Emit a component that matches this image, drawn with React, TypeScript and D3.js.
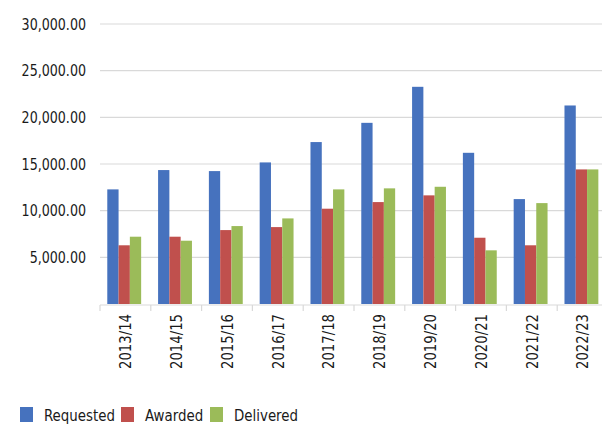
import { useEffect, useRef } from 'react';
import * as d3 from 'd3';

const years = ['2013/14', '2014/15', '2015/16', '2016/17', '2017/18', '2018/19', '2019/20', '2020/21', '2021/22', '2022/23'];
const requested = [12280, 14350, 14240, 15170, 17350, 19410, 23270, 16200, 11240, 21270];
const awarded = [6290, 7210, 7920, 8240, 10210, 10920, 11640, 7100, 6290, 14420];
const delivered = [7210, 6780, 8350, 9170, 12280, 12390, 12560, 5750, 10810, 14420];
const seriesNames = ['Requested', 'Awarded', 'Delivered'];
const seriesColors = ['#4672BE', '#C0504D', '#9BBB59'];
const yTicks = [5000, 10000, 15000, 20000, 25000, 30000];

const FONT = '"DejaVu Sans Condensed", "DejaVu Sans", sans-serif';

export default function App() {
  const svgRef = useRef<SVGSVGElement>(null);

  useEffect(() => {
    if (!svgRef.current) return;
    const svg = d3.select(svgRef.current);
    svg.selectAll('*').remove();

    const left = 100, right = 608, top = 24, bottom = 304;
    const values = [requested, awarded, delivered];

    const x = d3.scaleBand<string>().domain(years).range([left, right]).padding(0);
    const xs = d3.scaleBand<string>().domain(seriesNames).range([0, x.bandwidth()])
      .paddingInner(0).paddingOuter(0.75).align(0.43);
    const y = d3.scaleLinear().domain([0, 30000]).range([bottom, top]);

    // grid
    svg.append('g')
      .selectAll('line')
      .data(yTicks)
      .join('line')
      .attr('x1', left)
      .attr('x2', right)
      .attr('y1', d => y(d))
      .attr('y2', d => y(d))
      .attr('stroke', '#d9d9d9')
      .attr('stroke-width', 1.2);

    // y labels
    const fmt = d3.format(',.2f');
    svg.append('g')
      .selectAll('text')
      .data(yTicks)
      .join('text')
      .attr('transform', d => `translate(86,${y(d)}) scale(0.88,1)`)
      .attr('dy', '0.36em')
      .attr('text-anchor', 'end')
      .attr('fill', '#1a1a1a')
      .style('font-family', FONT)
      .style('font-size', '16px')
      .text(d => fmt(d));

    // bars
    const groups = svg.append('g')
      .selectAll('g')
      .data(years)
      .join('g')
      .attr('transform', d => `translate(${x(d)},0)`);

    groups.selectAll('rect')
      .data((_, i) => seriesNames.map((s, k) => ({ s, k, v: values[k][i] })))
      .join('rect')
      .attr('x', d => xs(d.s) || 0)
      .attr('width', xs.bandwidth())
      .attr('y', d => y(d.v))
      .attr('height', d => bottom - y(d.v))
      .attr('fill', d => seriesColors[d.k]);

    // x axis
    const axis = svg.append('g').attr('transform', `translate(0,${bottom + 1})`);
    axis.append('line')
      .attr('x1', left).attr('x2', right)
      .attr('stroke', '#d9d9d9').attr('stroke-width', 1.2);
    axis.selectAll('line.tick')
      .data([...years.map(d => x(d) || 0), right])
      .join('line')
      .attr('class', 'tick')
      .attr('x1', d => d).attr('x2', d => d)
      .attr('y1', 0).attr('y2', 6)
      .attr('stroke', '#d9d9d9').attr('stroke-width', 1.2);
    axis.selectAll('text')
      .data(years)
      .join('text')
      .attr('transform', d => `translate(${(x(d) || 0) + x.bandwidth() / 2},9) rotate(-90) scale(0.92,1)`)
      .attr('text-anchor', 'end')
      .attr('dy', '0.36em')
      .attr('fill', '#1a1a1a')
      .style('font-family', FONT)
      .style('font-size', '16px')
      .text(d => d);

    // legend
    const legend = svg.append('g').attr('transform', 'translate(20,407)');
    const items = [
      { name: seriesNames[0], x: 0 },
      { name: seriesNames[1], x: 101 },
      { name: seriesNames[2], x: 190 },
    ];
    items.forEach((it, i) => {
      legend.append('rect')
        .attr('x', it.x).attr('y', 0)
        .attr('width', 13).attr('height', 15)
        .attr('fill', seriesColors[i]);
      legend.append('text')
        .attr('transform', `translate(${it.x + 24},8) scale(0.93,1)`)
        .attr('dy', '0.36em')
        .attr('fill', '#1a1a1a')
        .style('font-family', FONT)
        .style('font-size', '16px')
        .text(it.name);
    });
  }, []);

  return (
    <svg
      ref={svgRef}
      width={602}
      height={426}
      style={{ position: 'absolute', left: 0, top: 0, background: '#fff' }}
    />
  );
}
